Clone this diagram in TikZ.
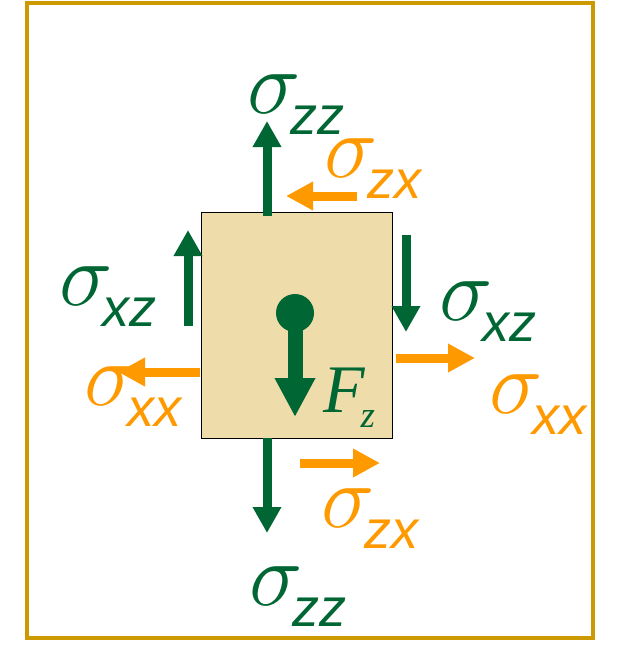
\documentclass[tikz,border=0pt]{standalone}
\usepackage{fix-cm}
\usepackage{fontspec}
\setmainfont{Liberation Sans}
\newfontfamily\greekfont{Liberation Serif}
\usetikzlibrary{arrows.meta, positioning}
\definecolor{stressgreen}{HTML}{006633}
\definecolor{stressorange}{HTML}{FF9900}
\definecolor{framegold}{HTML}{CC9900}
\definecolor{blocktan}{HTML}{EEDDAB}
\newcommand{\stresslbl}[1]{{\fontsize{90}{90}\selectfont$\sigma$}\kern-10pt{\fontsize{54}{54}\selectfont\itshape\raisebox{-21pt}{#1}}}

\begin{document}
\begin{tikzpicture}[x=1pt, y=-1pt,
    greenarrow/.style={draw=stressgreen, line width=9pt, -{Triangle[length=26pt, width=27pt]}},
    orangearrow/.style={draw=stressorange, line width=9pt, -{Triangle[length=27pt, width=27pt]}},
    lbl/.style={anchor=base west, inner sep=0pt}]
    \useasboundingbox (0,0) rectangle (620,672);
    \draw[framegold, line width=4pt] (27,3) rectangle (593,638);
    % element with its load
    \node[draw=black, line width=1pt, fill=blocktan, minimum width=191pt, minimum height=226pt, inner sep=0pt] (block) at (296.5,325) {};
    \coordinate (fztip) at (295,417);
    \draw[stressgreen, line width=15pt, -{Triangle[length=39pt, width=38pt]}] (295,313) -- (fztip);
    \node[circle, fill=stressgreen, minimum size=38pt, inner sep=0pt] (ball) at (295,313) {};
    \node[lbl, text=stressgreen] (fz) at (323,412) {{\fontsize{68}{68}\greekfont\itshape F}\kern-4pt{\fontsize{37}{37}\greekfont\itshape\raisebox{-15pt}{z}}};
    % top face
    \coordinate (zztopA) at (267,216);
    \coordinate (zztopB) at (267,121);
    \draw[greenarrow] (zztopA) -- (zztopB);
    \node[lbl, text=stressgreen] (zztop) at (247,113) {\stresslbl{zz}};
    \coordinate (zxtopA) at (357,196);
    \coordinate (zxtopB) at (286,196);
    \draw[orangearrow] (zxtopA) -- (zxtopB);
    \node[lbl, text=stressorange] (zxtop) at (324,177) {\stresslbl{zx}};
    % left face
    \coordinate (xzleftA) at (188,326);
    \coordinate (xzleftB) at (188,230);
    \draw[greenarrow] (xzleftA) -- (xzleftB);
    \node[lbl, text=stressgreen] (xzleft) at (59,305) {\stresslbl{xz}};
    \coordinate (xxleftA) at (200,372);
    \coordinate (xxleftB) at (118,372);
    \draw[orangearrow] (xxleftA) -- (xxleftB);
    \node[lbl, text=stressorange] (xxleft) at (84,405) {\stresslbl{xx}};
    % right face
    \coordinate (xzrightA) at (406,235);
    \coordinate (xzrightB) at (406,332);
    \draw[greenarrow] (xzrightA) -- (xzrightB);
    \node[lbl, text=stressgreen] (xzright) at (439,320) {\stresslbl{xz}};
    \coordinate (xxrightA) at (396,358);
    \coordinate (xxrightB) at (475,358);
    \draw[orangearrow] (xxrightA) -- (xxrightB);
    \node[lbl, text=stressorange] (xxright) at (489,413) {\stresslbl{xx}};
    % bottom face
    \coordinate (zzbotA) at (267,438);
    \coordinate (zzbotB) at (267,533);
    \draw[greenarrow] (zzbotA) -- (zzbotB);
    \node[lbl, text=stressgreen] (zzbot) at (249,605) {\stresslbl{zz}};
    \coordinate (zxbotA) at (300,463);
    \coordinate (zxbotB) at (380,463);
    \draw[orangearrow] (zxbotA) -- (zxbotB);
    \node[lbl, text=stressorange] (zxbot) at (321,527) {\stresslbl{zx}};
\end{tikzpicture}
\end{document}
